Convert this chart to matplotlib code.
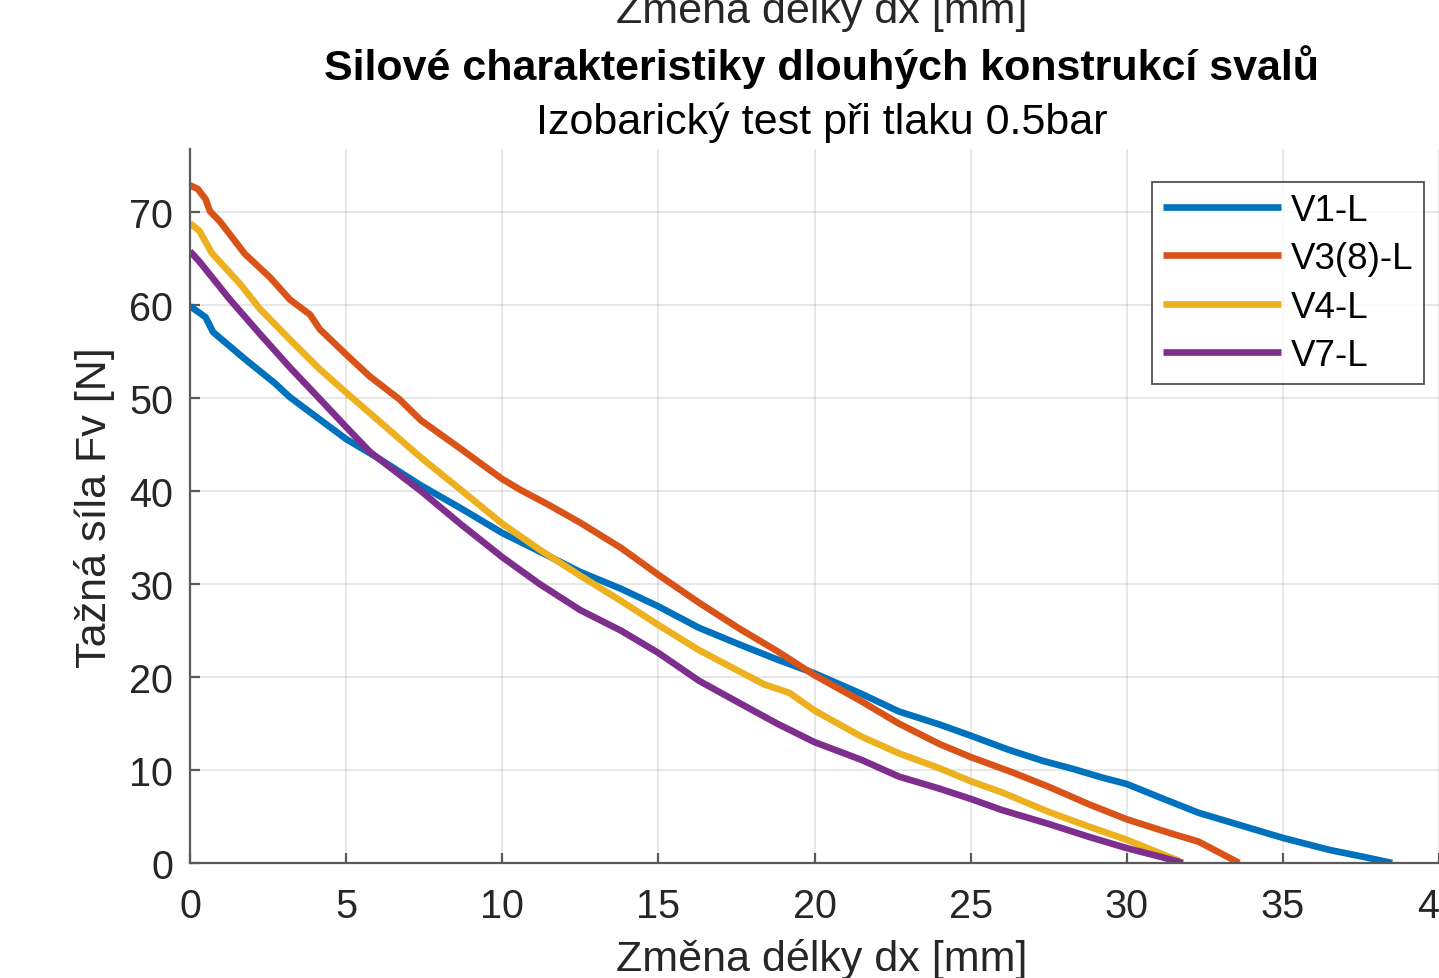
import matplotlib
matplotlib.use("Agg")
import matplotlib.pyplot as plt

plt.rcParams["font.family"] = ["Liberation Sans", "DejaVu Sans"]

x_v1 = [0, 0.5, 0.74, 1.76, 2.72, 3.2, 4.16, 5, 6.1, 7.4, 8.65, 10, 11.2, 12.5,
        13.8, 15, 16.3, 17.6, 18.8, 20, 21.5, 22.7, 24, 25, 26.2, 27.3, 28.3, 29.2,
        30, 31.1, 32.3, 33.6, 35, 36.5, 37.6, 38.5]
y_v1 = [59.9, 58.7, 57.1, 54.2, 51.6, 50.1, 47.7, 45.6, 43.4, 40.6, 38.2, 35.5, 33.5,
        31.3, 29.5, 27.6, 25.3, 23.5, 21.9, 20.4, 18.2, 16.3, 14.9, 13.7, 12.2, 11.0,
        10.1, 9.2, 8.5, 7.0, 5.4, 4.1, 2.7, 1.4, 0.65, 0.0]

x_v3 = [0, 0.25, 0.5, 0.64, 0.96, 1.76, 2.56, 3.2, 3.84, 4.16, 5, 5.77, 6.7, 7.4,
        8.65, 9.3, 10, 10.6, 11.5, 12.5, 13.8, 15, 16.3, 17.6, 18.8, 20, 21.5, 22.7,
        24, 25, 26.3, 27.5, 28.8, 30, 31.4, 32.3, 33.6]
y_v3 = [72.9, 72.5, 71.4, 70.1, 69.0, 65.5, 63.0, 60.6, 59.0, 57.4, 54.7, 52.3, 49.9,
        47.6, 44.6, 43.0, 41.3, 40.1, 38.5, 36.6, 33.9, 31.0, 28.0, 25.2, 22.8, 20.2,
        17.4, 15.0, 12.8, 11.4, 9.8, 8.2, 6.3, 4.7, 3.2, 2.3, 0.0]

x_v4 = [0, 0.3, 0.7, 1.6, 2.24, 3.2, 4.16, 5, 6.1, 7.4, 8.65, 10, 11.2, 12.5, 13.8,
        15, 16.3, 17.6, 18.4, 19.2, 20, 21.5, 22.7, 24, 25, 26, 27.5, 28.8, 30, 31.1,
        31.7]
y_v4 = [68.8, 68.0, 65.6, 62.3, 59.6, 56.3, 53.1, 50.6, 47.4, 43.6, 40.2, 36.5, 33.7,
        30.9, 28.2, 25.6, 22.9, 20.6, 19.2, 18.3, 16.4, 13.6, 11.8, 10.2, 8.8, 7.6,
        5.5, 3.9, 2.5, 1.0, 0.2]

x_v7 = [0, 0.3, 1.28, 2.24, 3.2, 4.16, 5, 5.77, 6.7, 7.4, 8.65, 10, 11.2, 12.5, 13.8,
        15, 16.3, 17.6, 18.8, 20, 21.5, 22.7, 24, 25, 26, 27.5, 28.8, 30, 31.1, 31.8]
y_v7 = [65.8, 64.7, 60.6, 56.9, 53.3, 49.9, 46.9, 44.2, 41.8, 40.0, 36.5, 32.9, 30.0,
        27.2, 25.0, 22.6, 19.6, 17.2, 15.0, 13.0, 11.1, 9.3, 8.0, 6.9, 5.7, 4.2, 2.8,
        1.6, 0.65, 0.0]

labels = ["V1-L", "V3(8)-L", "V4-L", "V7-L"]
colors = ["#0072BD", "#D95319", "#EDB120", "#7E2F8E"]
xticks = [0, 5, 10, 15, 20, 25, 30, 35, 40]
yticks = [0, 10, 20, 30, 40, 50, 60, 70]

W, H = 1439, 979
fig = plt.figure(figsize=(W / 100, H / 100), dpi=100)
ax = fig.add_axes([190 / W, 1 - 864 / H, 1 - 190 / W, (864 - 150) / H])

for xs, ys, lab, c in zip([x_v1, x_v3, x_v4, x_v7], [y_v1, y_v3, y_v4, y_v7], labels, colors):
    ax.plot(xs, ys, color=c, lw=4.8, label=lab, solid_capstyle="butt")

ax.set_xlim(0, 40)
ax.set_ylim(0, 76.8)
ax.set_xticks(xticks)
ax.set_yticks(yticks)
ax.grid(True, color="#262626", alpha=0.13, lw=1.2)
ax.set_axisbelow(True)
for s in ["top", "right"]:
    ax.spines[s].set_visible(False)
for s in ["left", "bottom"]:
    ax.spines[s].set_color("#5a5a5a")
    ax.spines[s].set_linewidth(1.6)
ax.tick_params(direction="in", length=7, width=1.6, color="#5a5a5a",
               labelsize=28.5, labelcolor="#262626")
ax.tick_params(axis="x", pad=17)
ax.tick_params(axis="y", pad=12)

leg = ax.legend(loc="upper right", bbox_to_anchor=(1424 / W, 1 - 183 / H),
                bbox_transform=fig.transFigure, fontsize=26.5, frameon=True,
                fancybox=False, edgecolor="#262626", handlelength=3.2,
                handletextpad=0.25, labelspacing=0.36, borderpad=0.3,
                borderaxespad=0)
leg.get_frame().set_linewidth(1.3)

cx = 822 / W
fig.text(95 / W, 1 - 508 / H, "Tažná síla Fv [N]", fontsize=31, color="#262626",
         rotation=90, ha="center", va="center")
fig.text(cx, 1 - 960 / H, "Změna délky dx [mm]", fontsize=31, color="#262626",
         ha="center", va="center")
fig.text(cx, 1 - 12 / H, "Změna délky dx [mm]", fontsize=31, color="#262626",
         ha="center", va="center")
fig.text(cx, 1 - 67 / H, "Silové charakteristiky dlouhých konstrukcí svalů",
         fontsize=31, fontweight="bold", color="black", ha="center", va="center")
fig.text(cx, 1 - 123 / H, "Izobarický test při tlaku 0.5bar", fontsize=31,
         color="black", ha="center", va="center")

fig.savefig("out.png", dpi=100)
